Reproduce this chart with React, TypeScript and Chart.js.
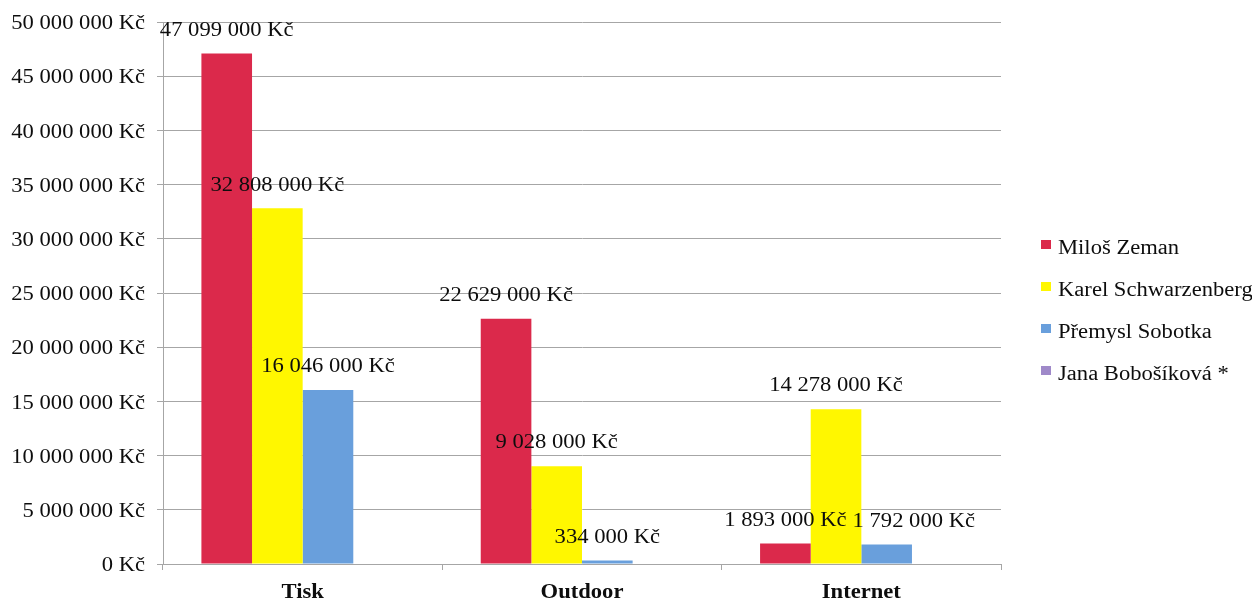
import React, { useEffect, useRef } from "react";
import { Chart, registerables } from "chart.js";

Chart.register(...registerables);

// Campaign spending by channel (CZK)
const categories = ["Tisk", "Outdoor", "Internet"];
const candidates = ["Miloš Zeman", "Karel Schwarzenberg", "Přemysl Sobotka", "Jana Bobošíková *"];
const zemanValues = [47099000, 22629000, 1893000];
const schwarzenbergValues = [32808000, 9028000, 14278000];
const sobotkaValues = [16046000, 334000, 1792000];
const bobosikovaValues: (number | null)[] = [null, null, null];
const seriesColors = ["#db294b", "#fff700", "#699fdc", "#9f89c9"];
const yMax = 50000000;
const yStep = 5000000;

const FONT_FAMILY = "'Times New Roman', 'Liberation Serif', serif";
const TEXT_SX = 1.13; // horizontal stretch of the serif lettering
const TEXT_COLOR = "#0d0d0d";
const GRID_COLOR = "#a6a6a6";

const formatKc = (v: number) =>
  String(Math.round(v)).replace(/\B(?=(\d{3})+(?!\d))/g, " ") + " Kč";

function drawText(
  ctx: CanvasRenderingContext2D,
  text: string,
  x: number,
  y: number,
  align: "left" | "center" | "right",
  font: string
) {
  ctx.save();
  ctx.font = font;
  ctx.textBaseline = "middle";
  ctx.textAlign = "left";
  const w = ctx.measureText(text).width * TEXT_SX;
  const left = align === "left" ? x : align === "center" ? x - w / 2 : x - w;
  ctx.translate(left, y);
  ctx.scale(TEXT_SX, 1);
  ctx.fillStyle = TEXT_COLOR;
  ctx.fillText(text, 0, 0);
  ctx.restore();
  return { left, right: left + w };
}

function measure(ctx: CanvasRenderingContext2D, text: string, font: string) {
  ctx.save();
  ctx.font = font;
  const w = ctx.measureText(text).width * TEXT_SX;
  ctx.restore();
  return w;
}

// Axis labels, value labels and legend drawn in stretched serif type
const textPlugin = {
  id: "serifText",
  afterDraw(chart: any) {
    const ctx: CanvasRenderingContext2D = chart.ctx;
    const area = chart.chartArea;
    const yScale = chart.scales.y;
    const xScale = chart.scales.x;
    const regular = `20px ${FONT_FAMILY}`;
    const bold = `bold 20px ${FONT_FAMILY}`;

    // y tick labels
    yScale.ticks.forEach((t: any) => {
      const py = yScale.getPixelForValue(t.value);
      drawText(ctx, formatKc(t.value), area.left - 18, py + 2, "right", regular);
    });

    // category labels
    categories.forEach((c, i) => {
      const px = xScale.getPixelForValue(i);
      drawText(ctx, c, px, area.bottom + 29, "center", bold);
    });

    // value labels above bars, nudged right when they would collide
    const boxes: { l: number; r: number; y: number }[] = [];
    chart.data.datasets.forEach((ds: any, di: number) => {
      const meta = chart.getDatasetMeta(di);
      meta.data.forEach((el: any, i: number) => {
        const v = ds.data[i];
        if (v === null || v === undefined) return;
        const text = formatKc(v);
        const w = measure(ctx, text, regular);
        const y = el.y - 23;
        let l = el.x - w / 2;
        boxes.forEach((b) => {
          if (Math.abs(b.y - y) < 20 && l < b.r && l + w > b.l) {
            l = b.r + 6;
          }
        });
        drawText(ctx, text, l, y, "left", regular);
        boxes.push({ l, r: l + w, y });
      });
    });

    // legend
    const rowGap = 42;
    const startY = chart.height / 2 + 12.5 - ((candidates.length - 1) * rowGap) / 2;
    candidates.forEach((name, i) => {
      const cy = startY + i * rowGap;
      ctx.save();
      ctx.fillStyle = seriesColors[i];
      ctx.fillRect(area.right + 40, cy - 10, 10, 9);
      ctx.restore();
      drawText(ctx, name, area.right + 57, cy - 1, "left", regular);
    });
  },
};

export default function App() {
  const canvasRef = useRef<HTMLCanvasElement | null>(null);

  useEffect(() => {
    if (!canvasRef.current) return;
    const seriesValues = [zemanValues, schwarzenbergValues, sobotkaValues, bobosikovaValues];
    const chart = new Chart(canvasRef.current, {
      type: "bar",
      data: {
        labels: categories,
        datasets: candidates.map((name, i) => ({
          label: name,
          data: seriesValues[i],
          backgroundColor: seriesColors[i],
          borderWidth: 0,
          categoryPercentage: 0.725,
          barPercentage: 1,
        })),
      },
      options: {
        responsive: false,
        animation: false,
        layout: { padding: { top: 22, right: 251, left: 0, bottom: 0 } },
        plugins: {
          legend: { display: false },
          tooltip: { enabled: false },
        },
        scales: {
          x: {
            grid: {
              display: true,
              drawOnChartArea: false,
              drawTicks: true,
              tickLength: 6,
              color: GRID_COLOR,
              offset: true,
            },
            border: { display: true, color: GRID_COLOR },
            ticks: { display: false },
            afterFit: (scale: any) => {
              scale.height = 37;
            },
          },
          y: {
            min: 0,
            max: yMax,
            ticks: { display: false, stepSize: yStep },
            grid: { color: GRID_COLOR, tickLength: 6, drawTicks: true },
            border: { display: true, color: GRID_COLOR },
            afterFit: (scale: any) => {
              scale.width = 163;
            },
          },
        },
      } as any,
      plugins: [textPlugin],
    });
    return () => chart.destroy();
  }, []);

  return (
    <div style={{ position: "absolute", left: 0, top: 0, width: 1252, height: 601, background: "#fff" }}>
      <canvas ref={canvasRef} width={1252} height={601} style={{ display: "block" }} />
    </div>
  );
}
